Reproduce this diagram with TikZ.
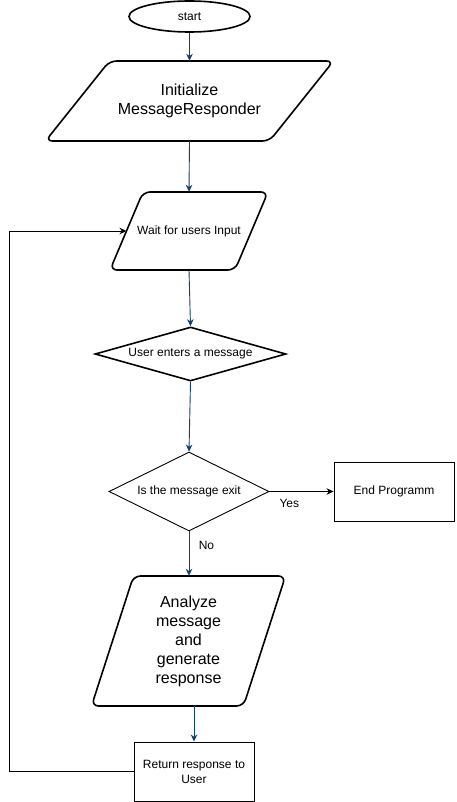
\documentclass[tikz,border=0pt]{standalone}
\usepackage{fontspec}
\setmainfont{Liberation Sans}
\usetikzlibrary{arrows.meta,shapes.geometric}
\definecolor{flowblue}{HTML}{0F4173}
\begin{document}
\begin{tikzpicture}[x=1pt,y=-1pt,
  heavy/.style={line width=1.6pt},
  light/.style={line width=0.9pt},
  txt/.style={font=\fontsize{12}{15}\selectfont, align=center},
  bigtxt/.style={font=\fontsize{16}{19}\selectfont, align=center},
  tip/.style={-{Stealth[length=7pt,width=6.5pt,inset=2.2pt]}},
  flow/.style={draw=flowblue, line width=0.9pt, tip},
  back/.style={draw=black, line width=0.9pt, tip},
  slot/.style 2 args={inner sep=0pt, minimum width=#1, minimum height=#2},
  parabox/.style={heavy, rounded corners=7pt}
]
\useasboundingbox (0,0) rectangle (456,802);

% start terminal
\node[draw, heavy, ellipse, inner sep=0pt, minimum width=121, minimum height=31, txt]
  (start) at (189.5,16.5) {start};

% initialisation (rounded parallelogram)
\draw[parabox] (221.5,61) -- (333.5,61) -- (269.5,141) -- (45.5,141) -- (109.5,61) -- cycle;
\node[slot={200}{80}, bigtxt] (init) at (189.5,101) {Initialize\\MessageResponder};

% wait for input (rounded parallelogram)
\draw[parabox] (205.5,192) -- (268,192) -- (235,270) -- (110,270) -- (143,192) -- cycle;
\node[slot={110}{78}, txt] (wait) at (189,231) {Wait for users Input};
\coordinate (waitin) at (126.5,231);

% user message decision
\node[draw, heavy, diamond, inner sep=0pt, minimum width=191, minimum height=54, aspect=3.5, txt]
  (enter) at (190.5,354) {User enters a message};

% exit check
\node[draw, light, diamond, inner sep=0pt, minimum width=160, minimum height=79, aspect=2, txt]
  (check) at (189,491.5) {Is the message exit};

% end of program
\node[draw, light, inner sep=0pt, minimum width=120, minimum height=59, txt]
  (endp) at (394,491.5) {End Programm};

% analysis step (rounded parallelogram)
\draw[parabox] (209.5,576) -- (285.5,576) -- (243.5,706) -- (91.5,706) -- (133.5,576) -- cycle;
\node[slot={130}{130}, bigtxt] (analyze) at (188.5,641) {Analyze\\message\\and\\generate\\response};

% reply to user
\node[draw, light, inner sep=0pt, minimum width=120, minimum height=59, txt]
  (reply) at (194,771.5) {Return response to\\User};

% connectors
\draw[flow] (start.south) -- (init.north);
\draw[flow] (init.south) -- (wait.north);
\draw[flow] (wait.south) -- (enter.north);
\draw[flow] (enter.south) -- (check.north);
\draw[back] (check.east) -- node[txt, pos=0.31, below=4pt] {Yes} (endp.west);
\draw[flow] (check.south) -- node[txt, pos=0.31, right=6pt] {No} (check.south |- analyze.north);
\draw[flow] (reply.north |- analyze.south) -- (reply.north);
\draw[back] (reply.west) -- (9.5,771.5) -- (9.5,231) -- (waitin);
\end{tikzpicture}
\end{document}
